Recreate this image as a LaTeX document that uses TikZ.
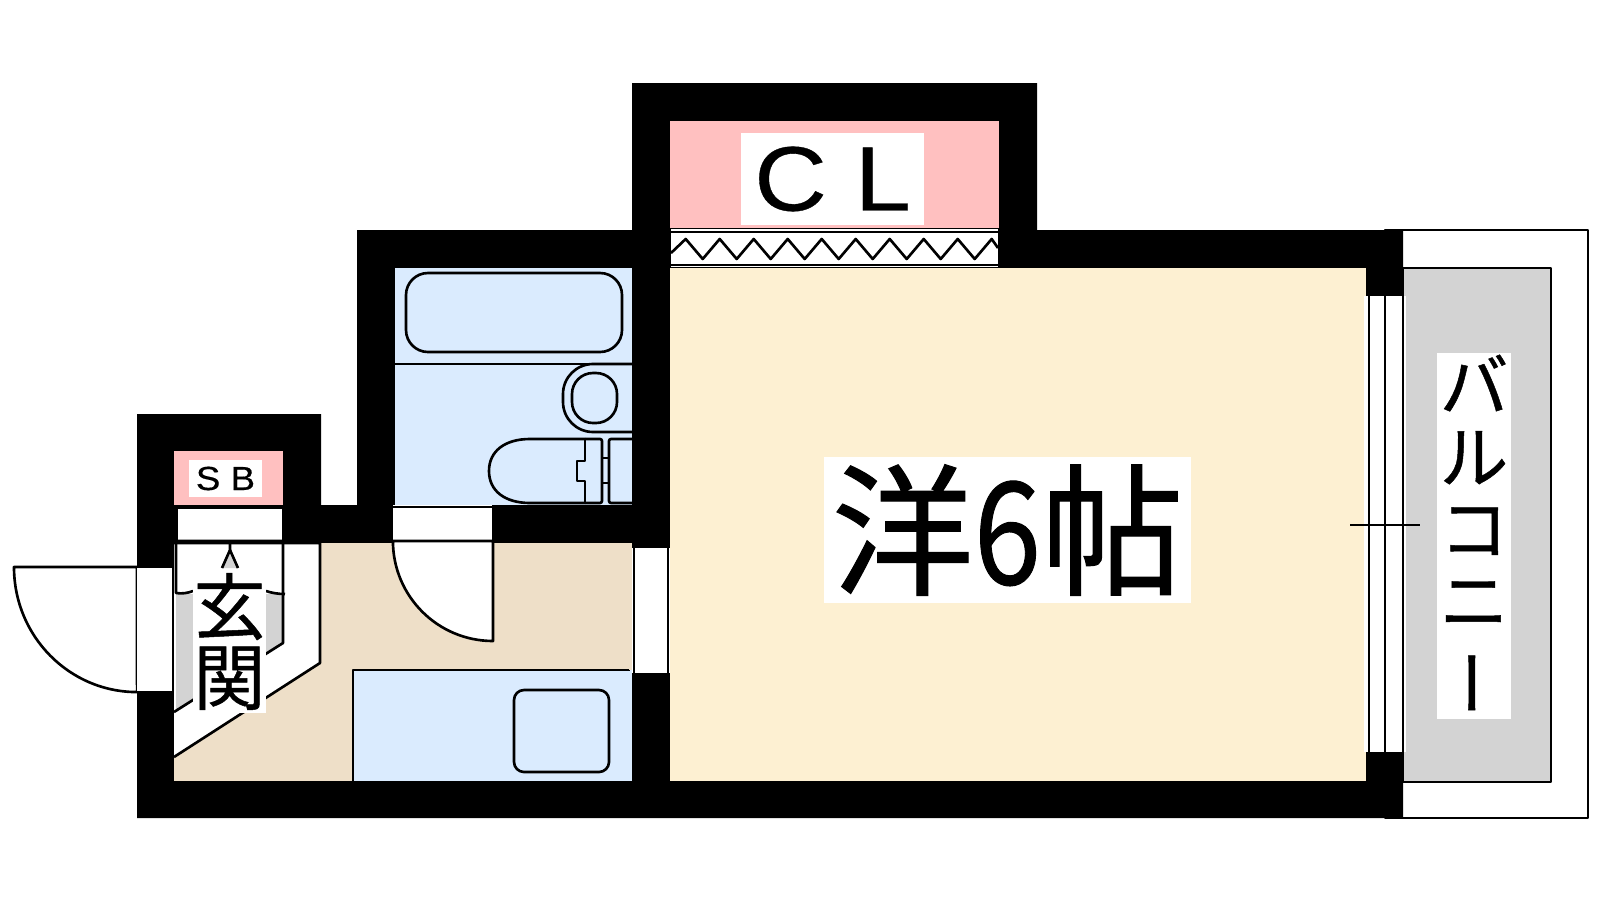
\documentclass[tikz,border=0pt]{standalone}
\usepackage{fontspec}
\setmainfont[FakeBold=0.7,AutoFakeBold=false]{Noto Sans CJK JP}
\newfontfamily\latinfont[WordSpace=1.0,FakeBold=0.4,FakeStretch=1.1]{Liberation Sans}
\usepackage{tikz}
\usetikzlibrary{calc}

\definecolor{wetblue}{HTML}{DAEBFE}
\definecolor{closetpink}{HTML}{FFC0C0}
\definecolor{roomcream}{HTML}{FDF0D2}
\definecolor{halltan}{HTML}{EEDFC8}
\definecolor{balconygray}{HTML}{D3D3D3}

\begin{document}
\begin{tikzpicture}
[x=0.01cm,y=-0.01cm,
 plan/.style={line width=0.75pt,draw=black,line join=round},
 tag/.style={fill=white,inner sep=0pt,align=center}]

\useasboundingbox (0,0) rectangle (1600,900);

\draw[plan] (1385,230) rectangle (1588,818);
\filldraw[plan,fill=balconygray] (1403,268) rectangle (1551,782);

\fill[black] (137,414) -- (321,414) -- (321,505) -- (357,505) -- (357,230) -- (632,230) -- (632,83)
  -- (1037,83) -- (1037,230) -- (1403,230) -- (1403,818) -- (137,818) -- cycle;

\fill[wetblue] (395,268) rectangle (632,505);
\fill[closetpink] (670,121) rectangle (999,228);
\fill[closetpink] (174,451) rectangle (283,505);
\fill[roomcream] (670,268) rectangle (1366,781);
\fill[halltan] (174,543) rectangle (632,781);

\fill[white] (671,229) rectangle (998,267);
\draw[plan] (671,232) -- (998,232);
\draw[plan] (671,265) -- (998,265);
\draw[plan] (671,253) -- (685.7,239)
  \foreach \zig in {0,...,8} { -- ({702.7+34*\zig},259) -- ({719.7+34*\zig},239) } -- (998,248);

\fill[white] (178,508) rectangle (282,541);
\draw[plan] (178,508) -- (282,508);

\filldraw[plan,fill=white] (174,543) -- (320,543) -- (320,663) -- (174,757);
\fill[balconygray] (176,594) -- (284,594) -- (284,643) -- (176,712) -- cycle;
\draw[plan] (176,541) -- (283,541) -- (283,643) -- (174,712);
\draw[plan] (176,541) -- (176,593) .. controls (182,594) and (188,593) .. (193,591);
\draw[plan] (266,591) .. controls (272,593) and (278,594) .. (285,594);

\filldraw[plan,fill=white] (137,567) -- (14,567) arc[start angle=180,end angle=270,x radius=1.23cm,y radius=1.25cm] -- cycle;
\fill[white] (137,568) rectangle (172,691);
\draw[plan] (137,567) -- (172,567);
\draw[plan] (173,568) -- (173,691);

\fill[white] (393,505) rectangle (492,541);
\draw[plan] (393,507) -- (492,507);
\filldraw[plan,fill=white] (393,541) -- (493,541) -- (493,641) arc[start angle=270,end angle=180,radius=1cm] -- cycle;

\fill[wetblue] (353,670) rectangle (632,781);
\draw[plan] (353,781) -- (353,670) -- (630,670);
\draw[plan,rounded corners=0.1cm] (514,690) rectangle (609,772);

\fill[white] (632,548) rectangle (670,673);
\fill[halltan] (629,548) rectangle (632,670);
\draw[plan] (634,548) -- (634,673);
\draw[plan] (668,548) -- (668,673);

\draw[plan,rounded corners=0.22cm] (406,273) rectangle (622,352);
\draw[plan] (395,364) -- (632,364);
\draw[plan,rounded corners=0.3cm] (632,364) -- (563,364) -- (563,432) -- (632,432);
\draw[plan,rounded corners=0.21cm] (572,373) rectangle (617,423);
\draw[plan] (585,439) -- (530,439) .. controls (505,439) and (489,451) .. (489,471)
  .. controls (489,491) and (505,503) .. (530,503) -- (585,503);
\draw[plan] (585,439) -- (585,461) -- (577,461) -- (577,481) -- (585,481) -- (585,503);
\draw[plan,rounded corners=0.02cm] (585,439) -- (602,439) -- (602,503) -- (585,503);
\draw[plan,rounded corners=0.02cm] (632,439) -- (609,439) -- (609,503) -- (632,503);
\draw[plan] (602,458) -- (609,458);
\draw[plan] (602,483) -- (609,483);

\fill[white] (1364,296) rectangle (1406,752);
\draw[plan] (1369,296) -- (1369,752);
\draw[plan] (1385,296) -- (1385,752);
\draw[plan] (1403,296) -- (1403,752);
\draw[plan] (1350,525) -- (1420,525);

\node[tag,minimum width=1.83cm,minimum height=0.92cm,font=\latinfont\fontsize{26}{26}\selectfont] (cl) at (832.5,179) {C L};
\node[tag,minimum width=0.73cm,minimum height=0.37cm,font=\latinfont\fontsize{9.5}{9.5}\selectfont] (sb) at (225.5,478.5) {S B};
\node[tag,minimum width=3.67cm,minimum height=1.46cm,font=\fontsize{40.5}{40.5}\selectfont] (room) at (1007.5,530) {洋\scalebox{0.85}[1]{6}帖};
\node[tag,minimum width=0.73cm,minimum height=1.43cm,font=\fontsize{20.5}{20}\selectfont] (entry) at (229.5,641.5) {玄\\関};
\node[tag,minimum width=0.74cm,minimum height=3.66cm,font=\fontsize{19.5}{20.4}\selectfont] (balcony) at (1474,536)
  {バ\\ル\\コ\\ニ\\\kern-0.2em\rotatebox[origin=c]{-90}{ー}\kern0.2em};

\fill[balconygray] (222,568) -- (230,550) -- (238,568) -- cycle;
\draw[plan] (230,541) -- (230,550) -- (222,568);
\draw[plan] (230,550) -- (238,568);
\end{tikzpicture}
\end{document}
